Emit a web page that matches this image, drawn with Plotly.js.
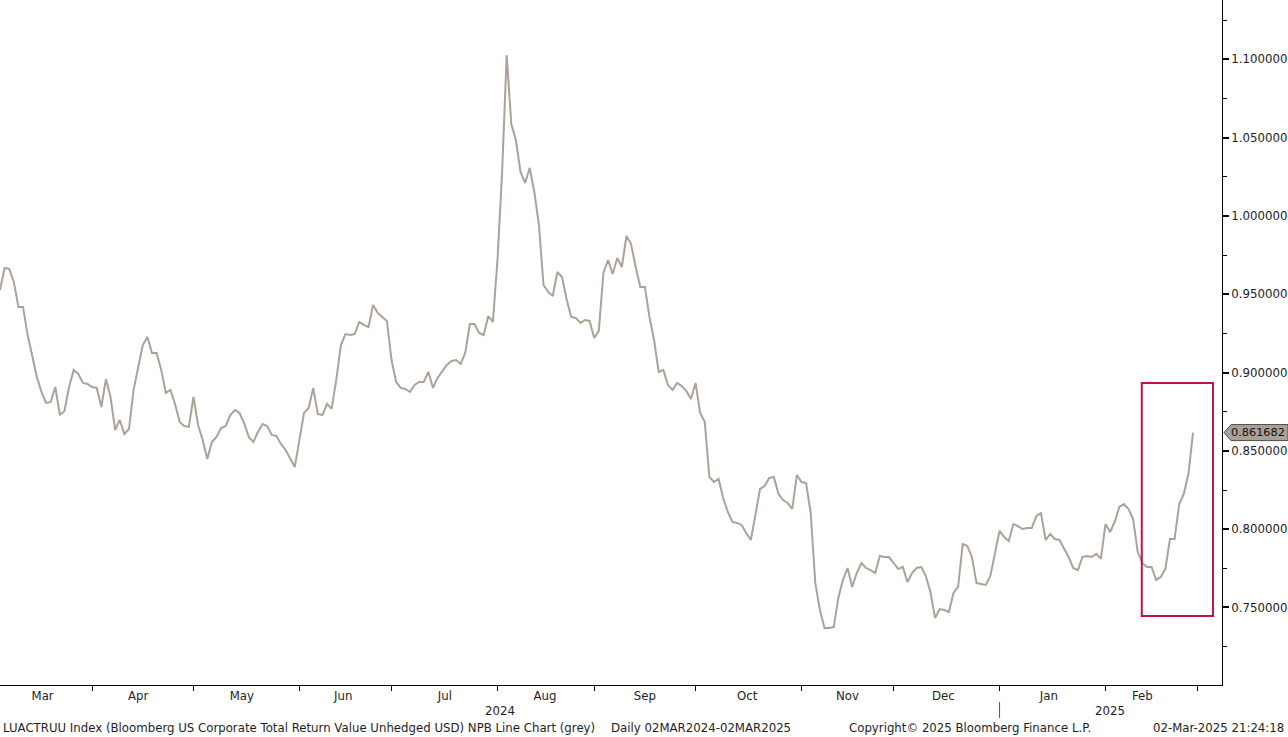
<!DOCTYPE html>
<html>
<head>
<meta charset="utf-8">
<script src="https://cdn.plot.ly/plotly-3.0.1.min.js"></script>
<style>
  html, body { margin: 0; padding: 0; background: #ffffff; }
  #chart { width: 1288px; height: 737px; }
</style>
</head>
<body>
<div id="chart"></div>
<script>
// LUACTRUU Index - NPB Line Chart (grey), daily, weekdays from 04-Mar-2024 to 28-Feb-2025
const startDate = '2024-03-04';
const values = [
  0.9527, 0.9668, 0.9662, 0.9579, 0.9419, 0.9419, 0.9240, 0.9100, 0.8972, 0.8876,
  0.8806, 0.8812, 0.8908, 0.8729, 0.8755, 0.8908, 0.9017, 0.8991, 0.8934, 0.8927,
  0.8908, 0.8902, 0.8780, 0.8959, 0.8844, 0.8633, 0.8697, 0.8608, 0.8640, 0.8889,
  0.9036, 0.9176, 0.9227, 0.9125, 0.9125, 0.9017, 0.8870, 0.8889, 0.8800, 0.8685,
  0.8659, 0.8653, 0.8844, 0.8665, 0.8570, 0.8448, 0.8557, 0.8589, 0.8646, 0.8659,
  0.8729, 0.8761, 0.8742, 0.8678, 0.8589, 0.8557, 0.8621, 0.8672, 0.8659, 0.8602,
  0.8595, 0.8544, 0.8506, 0.8455, 0.8397, 0.8570, 0.8742, 0.8774, 0.8902, 0.8736,
  0.8729, 0.8800,
  0.8768, 0.8953, 0.9176, 0.9246, 0.9240, 0.9246, 0.9323, 0.9304, 0.9291, 0.9432,
  0.9381, 0.9355, 0.9330, 0.9080, 0.8940, 0.8902, 0.8895, 0.8876, 0.8921, 0.8940,
  0.8940, 0.9004, 0.8902, 0.8966, 0.9004, 0.9049, 0.9074, 0.9080, 0.9055, 0.9125,
  0.9310, 0.9310, 0.9253, 0.9240, 0.9361, 0.9323, 0.9719, 1.0275, 1.1028, 1.0587,
  1.0485, 1.0281, 1.0211, 1.0307, 1.0153, 0.9943, 0.9559, 0.9515, 0.9489, 0.9642,
  0.9610, 0.9470, 0.9355, 0.9349, 0.9317, 0.9336, 0.9330, 0.9221, 0.9266, 0.9636,
  0.9719, 0.9630, 0.9732, 0.9674, 0.9872, 0.9821, 0.9674, 0.9547, 0.9547, 0.9355,
  0.9208, 0.9004, 0.9017, 0.8921, 0.8889, 0.8934, 0.8914, 0.8883, 0.8831, 0.8934,
  0.8742, 0.8685, 0.8333, 0.8301, 0.8321, 0.8199, 0.8110, 0.8046, 0.8040, 0.8027,
  0.7976, 0.7931, 0.8091, 0.8257, 0.8276, 0.8327, 0.8333, 0.8225, 0.8186, 0.8167,
  0.8129, 0.8346, 0.8301, 0.8295, 0.8103, 0.7656, 0.7484, 0.7369, 0.7369, 0.7375,
  0.7561, 0.7676, 0.7752, 0.7631, 0.7720, 0.7784, 0.7752, 0.7739, 0.7720, 0.7829,
  0.7822, 0.7822, 0.7784,
  0.7746, 0.7759, 0.7663, 0.7720, 0.7752, 0.7759, 0.7701, 0.7599, 0.7433, 0.7490,
  0.7484, 0.7471, 0.7593, 0.7631, 0.7905, 0.7893, 0.7822, 0.7656, 0.7650, 0.7644,
  0.7701, 0.7842, 0.7989, 0.7950, 0.7925, 0.8033, 0.8020, 0.8001, 0.8008, 0.8008,
  0.8084, 0.8103, 0.7931, 0.7969, 0.7937, 0.7931, 0.7880, 0.7822, 0.7752, 0.7739,
  0.7822, 0.7829, 0.7822, 0.7842, 0.7810, 0.8033, 0.7982, 0.8046, 0.8142, 0.8161,
  0.8129, 0.8065, 0.7854, 0.7784, 0.7759, 0.7759, 0.7676, 0.7695, 0.7746, 0.7937,
  0.7937, 0.8161, 0.8225, 0.8352, 0.861682
];
const lastLabel = '0.861682';
const monthLabels = ['Mar', 'Apr', 'May', 'Jun', 'Jul', 'Aug', 'Sep', 'Oct', 'Nov', 'Dec', 'Jan', 'Feb'];
const monthLabelDates = ['2024-03-15 06:00', '2024-04-15 00:00', '2024-05-15 12:00', '2024-06-14 12:00',
  '2024-07-16 14:00', '2024-08-15 07:00', '2024-09-16 00:00', '2024-10-16 05:00',
  '2024-11-15 00:00', '2024-12-13 19:00', '2025-01-15 17:00', '2025-02-13 00:00'];
const yearLabels = ['2024', '2025'];
const yearLabelDates = ['2024-08-01 13:00', '2025-02-04 00:00'];
const yearSeparatorDate = '2025-01-01';
const footerLeft = 'LUACTRUU Index (Bloomberg US Corporate Total Return Value Unhedged USD) NPB Line Chart (grey)';
const footerPeriod = 'Daily 02MAR2024-02MAR2025';
const footerCopyright = 'Copyright\u00A9 2025 Bloomberg Finance L.P.';
const footerStamp = '02-Mar-2025 21:24:18';
const highlightBox = { x0: '2025-02-12 21:00', x1: '2025-03-06 08:00', y0: 0.7446, y1: 0.8934 };

// weekday dates (Bloomberg daily chart skips weekends)
function weekdayDates(start, n) {
  const out = [];
  const d = new Date(start + 'T00:00:00Z');
  while (out.length < n) {
    const wd = d.getUTCDay();
    if (wd !== 0 && wd !== 6) out.push(d.toISOString().slice(0, 10));
    d.setUTCDate(d.getUTCDate() + 1);
  }
  return out;
}
const dates = weekdayDates(startDate, values.length);
const lastValue = values[values.length - 1];

const FONT = 'DejaVu Sans, Verdana, sans-serif';
const FS = 11.75;
const TXT = '#1e1e1e';
const H = 685; // plot height in px

const trace = {
  x: dates, y: values, type: 'scatter', mode: 'lines',
  line: { color: '#aca298', width: 2 },
  hoverinfo: 'skip', showlegend: false
};

const py = (px) => -(px - H) / H; // pixel row below plot -> paper y

const layout = {
  width: 1288, height: 737,
  margin: { l: 0, r: 66, t: 0, b: 52, pad: 0 },
  paper_bgcolor: '#ffffff', plot_bgcolor: '#ffffff',
  showlegend: false,
  font: { family: FONT, size: FS, color: TXT },
  xaxis: {
    type: 'date',
    range: ['2024-03-04', '2025-03-10 07:00'],
    rangebreaks: [{ bounds: ['sat', 'mon'] }],
    tickmode: 'array', tickvals: monthLabelDates, ticktext: monthLabels,
    ticks: '',
    minor: { tick0: '2024-03-01', dtick: 'M1', ticks: 'outside', ticklen: 5, tickcolor: '#000', tickwidth: 1, showgrid: false },
    showline: true, linecolor: '#000', linewidth: 1,
    showgrid: false, zeroline: false,
    tickfont: { family: FONT, size: FS, color: TXT },
    fixedrange: true
  },
  yaxis: {
    side: 'right',
    range: [0.7005, 1.1379],
    tick0: 0.75, dtick: 0.05, tickformat: '.6f',
    ticks: 'outside', ticklen: 6, tickwidth: 2, tickcolor: '#000',
    minor: { dtick: 0.025, tick0: 0.725, ticks: 'outside', ticklen: 4, tickcolor: '#000', tickwidth: 1 },
    showline: true, linecolor: '#000', linewidth: 1,
    showgrid: false, zeroline: false,
    tickfont: { family: FONT, size: FS, color: TXT },
    fixedrange: true
  },
  shapes: [
    { type: 'rect', xref: 'x', yref: 'y',
      x0: highlightBox.x0, x1: highlightBox.x1, y0: highlightBox.y0, y1: highlightBox.y1,
      line: { color: '#c0134a', width: 2 }, fillcolor: 'rgba(0,0,0,0)' },
    { type: 'line', xref: 'x', yref: 'paper',
      x0: yearSeparatorDate, x1: yearSeparatorDate, y0: py(702), y1: py(718),
      line: { color: '#555', width: 1 } },
    { type: 'path', xref: 'paper', yref: 'y',
      xsizemode: 'pixel', ysizemode: 'pixel', xanchor: 1, yanchor: lastValue,
      path: 'M2,0 L9,8 L66,8 L66,-8 L9,-8 Z',
      fillcolor: '#aaa096', line: { color: '#4d4d4d', width: 1 }, layer: 'above' }
  ],
  annotations: [
    { text: lastLabel, xref: 'paper', yref: 'y', x: 1, xshift: 7, y: lastValue,
      xanchor: 'left', yanchor: 'middle', showarrow: false,
      font: { family: FONT, size: 11.3, color: '#111' } },
    { text: yearLabels[0], xref: 'x', yref: 'paper', x: yearLabelDates[0], y: py(711),
      xanchor: 'center', yanchor: 'middle', showarrow: false },
    { text: yearLabels[1], xref: 'x', yref: 'paper', x: yearLabelDates[1], y: py(711),
      xanchor: 'center', yanchor: 'middle', showarrow: false },
    { text: footerLeft, xref: 'paper', yref: 'paper', x: 1 / 1222, y: py(728),
      xanchor: 'left', yanchor: 'middle', showarrow: false },
    { text: footerPeriod, xref: 'paper', yref: 'paper', x: 609 / 1222, y: py(728),
      xanchor: 'left', yanchor: 'middle', showarrow: false },
    { text: footerCopyright, xref: 'paper', yref: 'paper', x: 847 / 1222, y: py(728),
      xanchor: 'left', yanchor: 'middle', showarrow: false },
    { text: footerStamp, xref: 'paper', yref: 'paper', x: 1286 / 1222, y: py(728),
      xanchor: 'right', yanchor: 'middle', showarrow: false }
  ]
};

Plotly.newPlot('chart', [trace], layout, { displayModeBar: false, staticPlot: true });
</script>
</body>
</html>
